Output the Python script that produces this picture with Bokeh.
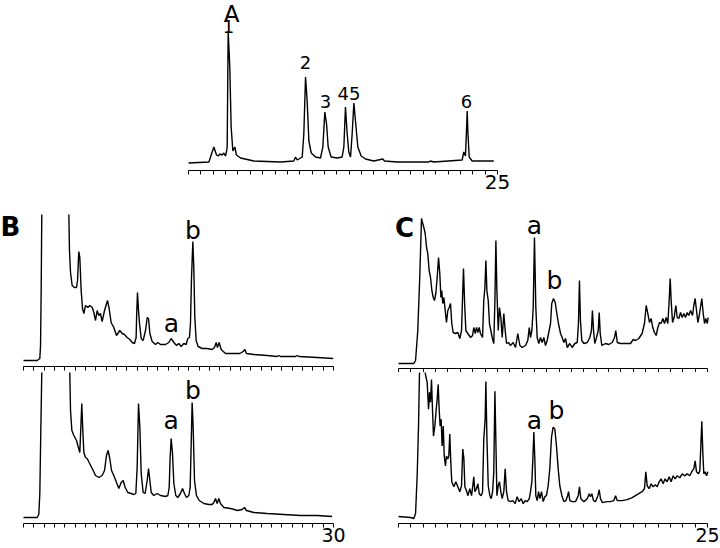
from bokeh.plotting import figure
from bokeh.layouts import column, row
from bokeh.models import FixedTicker, Range1d
from bokeh.core.properties import value
from bokeh.embed import file_html
from bokeh.resources import INLINE

# ---------------- data (time in min, detector response in arbitrary units) ----------------
a_time = [0.0, 1.65, 2.05, 2.27, 2.40, 2.53, 2.72, 2.86, 2.99, 3.07, 3.13, 3.21, 3.34, 3.45, 3.59, 3.67,
          3.75, 3.88, 4.21, 5.29, 7.44, 8.52, 8.66, 8.79, 9.20, 9.33, 9.47, 9.60, 9.74, 9.93, 10.28, 10.68,
          10.87, 11.03, 11.17, 11.30, 11.54, 12.03, 12.43, 12.57, 12.70, 12.84, 12.97, 13.11, 13.24, 13.38,
          13.51, 13.70, 13.97, 14.32, 14.99, 15.72, 15.86, 16.88, 19.44, 19.58, 19.85, 22.14, 22.27, 22.41,
          22.49, 22.55, 22.60, 22.71, 22.95, 23.62, 24.70]
a_signal = [0, 1, 16, 8, 7, 9, 8, 10, 7, 11, 16, 132, 96, 36, 12, 14,
            16, 8, 5, 2, 1, 2, 6, 3, 6, 29, 86, 62, 22, 10, 6, 5,
            16, 51, 39, 16, 6, 5, 6, 16, 56, 29, 11, 6, 29, 60,
            42, 16, 7, 4, 2, 4, 2, 1, 1, 2, 1, 3, 11, 7,
            32, 52, 32, 6, 2, 2, 2]
a_peak_text = ["1", "2", "3", "45", "6"]
a_peak_time = [3.24, 9.47, 11.08, 12.99, 22.49]
a_peak_level = [137, 100.5, 61.5, 69.5, 61.5]

b1_time = [0.0, 1.32, 1.58, 1.65, 1.71, 1.77, 1.85, 4.30, 4.39, 4.45, 4.55, 4.71, 4.94, 5.13, 5.23, 5.35,
           5.45, 5.58, 5.71, 5.84, 6.00, 6.23, 6.42, 6.65, 6.81, 6.97, 7.13, 7.29, 7.45, 7.61, 7.84, 8.13,
           8.29, 8.48, 8.74, 9.00, 9.32, 9.55, 9.77, 10.03, 10.29, 10.52, 10.74, 10.90, 10.95, 11.03, 11.13,
           11.23, 11.39, 11.58, 11.81, 11.97, 12.10, 12.23, 12.45, 12.77, 13.00, 13.26, 13.74, 14.06, 14.29,
           14.55, 14.81, 15.03, 15.26, 15.52, 15.74, 15.90, 16.06, 16.16, 16.26, 16.39, 16.48, 16.58, 16.71,
           16.90, 17.29, 17.77, 18.26, 18.48, 18.65, 18.77, 18.94, 19.13, 19.55, 20.35, 20.94, 21.26, 21.42,
           21.58, 22.29, 23.58, 24.55, 24.71, 24.87, 26.32, 26.48, 26.65, 28.42, 29.97]
b1_signal = [0, 0, 2, 15, 70, 146, 200, 200, 145, 110, 88, 75, 73, 73, 80, 109,
             103, 70, 52, 47, 55, 53, 55, 53, 48, 40, 50, 45, 47, 39, 50, 60,
             52, 38, 33, 25, 30, 27, 26, 23, 21, 18, 17, 23, 45, 68, 50,
             37, 22, 20, 30, 43, 42, 27, 19, 16, 18, 16, 16, 18, 22,
             18, 15, 17, 14, 17, 16, 22, 23, 37, 83, 119, 93, 43, 20,
             14, 12, 12, 11, 13, 18, 13, 18, 11, 7, 7, 7, 9, 11,
             7, 6, 5, 4, 5, 4, 4, 5, 4, 3, 2]
b1_peak_text = ["a", "b"]
b1_peak_time = [14.32, 16.39]
b1_peak_level = [37, 130]

b2_time = [0.0, 1.32, 1.48, 1.58, 1.68, 1.77, 1.85, 4.40, 4.48, 4.55, 4.68, 4.87, 5.13, 5.26, 5.45, 5.55,
           5.64, 5.74, 5.84, 6.00, 6.16, 6.35, 6.65, 6.97, 7.29, 7.61, 7.84, 8.03, 8.19, 8.35, 8.52, 8.74,
           9.00, 9.23, 9.45, 9.65, 9.84, 10.10, 10.42, 10.68, 10.87, 11.00, 11.13, 11.26, 11.39, 11.58, 11.77,
           11.97, 12.10, 12.23, 12.36, 12.61, 12.94, 13.26, 13.74, 13.97, 14.10, 14.19, 14.29, 14.42, 14.55,
           14.74, 14.93, 15.19, 15.39, 15.58, 15.77, 16.00, 16.13, 16.23, 16.32, 16.42, 16.55, 16.74, 17.00,
           17.45, 17.94, 18.26, 18.42, 18.58, 18.74, 18.90, 19.06, 19.39, 20.03, 20.74, 21.16, 21.39, 21.58,
           22.29, 23.58, 25.19, 26.81, 28.42, 29.87]
b2_signal = [0, 0, 3, 24, 90, 145, 200, 200, 145, 107, 87, 82, 77, 72, 65, 90,
             114, 87, 65, 60, 59, 55, 49, 42, 40, 42, 47, 62, 67, 59, 47, 42,
             35, 29, 35, 37, 30, 25, 24, 23, 24, 50, 114, 90, 44, 25, 24,
             37, 49, 37, 25, 22, 24, 22, 21, 22, 30, 60, 79, 64, 34,
             22, 20, 24, 29, 24, 20, 22, 30, 74, 115, 90, 37, 22, 17,
             14, 13, 13, 15, 19, 14, 19, 14, 10, 9, 7, 8, 10, 7,
             5, 4, 3, 2, 2, 1]
b2_peak_text = ["a", "b"]
b2_peak_time = [14.29, 16.39]
b2_peak_level = [97, 127]

c1_time = [0.0, 1.24, 1.38, 1.56, 1.73, 1.86, 1.94, 2.05, 2.16, 2.27, 2.37, 2.48, 2.59, 2.70, 2.81, 2.91,
           3.02, 3.13, 3.24, 3.34, 3.43, 3.50, 3.58, 3.67, 3.78, 3.88, 3.99, 4.10, 4.21, 4.31, 4.42, 4.61,
           4.80, 4.96, 5.10, 5.20, 5.26, 5.34, 5.45, 5.61, 5.83, 5.99, 6.09, 6.21, 6.31, 6.42, 6.53, 6.63,
           6.80, 6.90, 6.99, 7.07, 7.15, 7.26, 7.36, 7.47, 7.58, 7.71, 7.80, 7.88, 7.96, 8.07, 8.17, 8.28,
           8.39, 8.52, 8.63, 8.74, 8.90, 9.06, 9.28, 9.47, 9.65, 9.82, 10.01, 10.28, 10.46, 10.58, 10.68,
           10.79, 10.90, 11.00, 11.11, 11.22, 11.35, 11.49, 11.62, 11.76, 11.89, 12.03, 12.19, 12.30, 12.40,
           12.54, 12.68, 12.81, 12.94, 13.11, 13.24, 13.38, 13.51, 13.65, 13.86, 14.05, 14.27, 14.46, 14.56,
           14.64, 14.72, 14.83, 15.00, 15.27, 15.48, 15.61, 15.69, 15.78, 15.88, 16.02, 16.16, 16.24, 16.32,
           16.45, 16.75, 17.02, 17.29, 17.48, 17.58, 17.70, 17.96, 18.37, 18.77, 18.99, 19.17, 19.44, 19.71,
           19.90, 20.04, 20.17, 20.31, 20.44, 20.57, 20.71, 20.85, 20.98, 21.12, 21.25, 21.39, 21.52, 21.66,
           21.79, 21.90, 21.98, 22.06, 22.17, 22.30, 22.44, 22.55, 22.68, 22.82, 22.95, 23.09, 23.22, 23.36,
           23.49, 23.63, 23.79, 23.89, 24.00, 24.11, 24.22, 24.33, 24.43, 24.54, 24.65, 24.76, 24.86, 24.98,
           25.06]
c1_signal = [0, 0, 3, 33, 90, 145, 141, 136, 130, 116, 110, 93, 86, 73, 66, 63,
             70, 86, 106, 90, 66, 73, 60, 66, 53, 41, 53, 56, 60, 40, 31, 30,
             31, 25, 33, 73, 95, 63, 33, 30, 26, 28, 36, 30, 36, 31, 36, 30,
             26, 63, 76, 103, 73, 63, 40, 33, 26, 20, 63, 123, 73, 33, 56, 46,
             26, 50, 33, 20, 21, 18, 21, 16, 30, 18, 16, 18, 23, 36, 26,
             33, 56, 126, 56, 26, 20, 26, 21, 26, 18, 23, 33, 40, 60,
             65, 61, 50, 40, 30, 26, 21, 25, 16, 20, 16, 20, 21, 40,
             83, 43, 23, 20, 21, 26, 33, 53, 33, 20, 26, 33, 51, 30,
             18, 20, 19, 21, 26, 33, 21, 20, 20, 20, 24, 23, 25, 30,
             40, 58, 50, 41, 45, 36, 31, 28, 36, 41, 40, 45, 40, 46,
             40, 63, 85, 63, 41, 46, 58, 46, 45, 51, 46, 50, 46, 51,
             48, 53, 48, 58, 65, 53, 41, 48, 56, 65, 50, 40, 45, 40,
             46]
c1_peak_text = ["a", "b"]
c1_peak_time = [11.0, 12.62]
c1_peak_level = [138, 83]

c2_time = [0.0, 0.97, 1.24, 1.38, 1.51, 1.62, 1.72, 2.05, 2.18, 2.32, 2.43, 2.51, 2.59, 2.67, 2.75, 2.83,
           2.94, 3.05, 3.13, 3.21, 3.29, 3.37, 3.45, 3.53, 3.62, 3.70, 3.80, 3.88, 3.99, 4.07, 4.15, 4.23,
           4.31, 4.48, 4.64, 4.80, 4.96, 5.10, 5.20, 5.29, 5.37, 5.50, 5.61, 5.77, 5.91, 6.01, 6.09, 6.18,
           6.31, 6.42, 6.53, 6.69, 6.80, 6.90, 7.01, 7.07, 7.15, 7.26, 7.39, 7.50, 7.61, 7.71, 7.80, 7.88,
           7.96, 8.07, 8.17, 8.28, 8.39, 8.52, 8.63, 8.74, 8.87, 9.06, 9.25, 9.44, 9.60, 9.76, 9.93, 10.09,
           10.25, 10.41, 10.58, 10.68, 10.79, 10.87, 10.95, 11.03, 11.11, 11.22, 11.33, 11.44, 11.57, 11.71,
           11.84, 11.97, 12.11, 12.24, 12.38, 12.51, 12.65, 12.78, 12.92, 13.05, 13.22, 13.38, 13.54, 13.68,
           13.76, 13.86, 14.05, 14.32, 14.54, 14.64, 14.75, 15.00, 15.27, 15.43, 15.53, 15.64, 15.78, 15.94,
           16.13, 16.24, 16.34, 16.50, 16.88, 17.15, 17.42, 17.56, 17.70, 18.10, 18.50, 18.91, 19.17, 19.44,
           19.71, 19.90, 20.01, 20.12, 20.28, 20.44, 20.60, 20.77, 20.93, 21.09, 21.25, 21.41, 21.57, 21.74,
           21.90, 22.06, 22.22, 22.38, 22.55, 22.76, 22.95, 23.14, 23.36, 23.57, 23.76, 23.89, 24.00, 24.11,
           24.27, 24.38, 24.46, 24.54, 24.62, 24.70, 24.81, 24.92, 25.03]
c2_signal = [0, -1, -2, 3, 41, 91, 160, 160, 143, 135, 108, 125, 115, 138, 108, 81,
             91, 108, 118, 133, 108, 91, 98, 71, 91, 61, 51, 61, 58, 61, 83, 55,
             35, 30, 35, 30, 25, 31, 68, 58, 30, 26, 21, 28, 21, 31, 40, 25,
             28, 33, 23, 21, 25, 78, 98, 136, 81, 31, 21, 18, 25, 45, 126, 75,
             21, 31, 35, 25, 18, 25, 48, 25, 16, 15, 16, 13, 20, 15, 18, 13,
             16, 15, 18, 25, 35, 58, 85, 58, 21, 16, 25, 18, 25, 15,
             20, 21, 31, 48, 80, 90, 88, 71, 48, 31, 21, 15, 16, 21,
             25, 16, 15, 15, 21, 30, 18, 15, 18, 23, 20, 23, 16, 15,
             21, 27, 18, 14, 15, 15, 16, 21, 16, 16, 17, 19, 21, 23,
             25, 28, 45, 31, 28, 33, 30, 32, 30, 35, 38, 33, 38, 35,
             40, 35, 41, 38, 41, 39, 43, 41, 43, 41, 46, 48, 56, 45,
             43, 46, 71, 96, 65, 43, 45, 41, 45]
c2_peak_text = ["a", "b"]
c2_peak_time = [11.0, 12.78]
c2_peak_level = [97, 107]

panel_letters = ["A", "B", "C"]

# ---------------- layout helpers ----------------
FONT = value("DejaVu Sans")


def make_panel(width, height, border_top, border_bottom, zero_px, px_per_min,
               ref_top, ref_axis, ref_base, axis_end, show_end_label, label_size="19px"):
    x0 = -zero_px / px_per_min
    x1 = (width - zero_px) / px_per_min
    y0 = -(ref_axis - ref_base)
    y1 = ref_base - ref_top
    p = figure(width=width, height=height, x_range=Range1d(x0, x1), y_range=Range1d(y0, y1),
               output_backend="svg", toolbar_location=None, y_axis_location=None,
               min_border_left=0, min_border_right=0,
               min_border_top=border_top, min_border_bottom=border_bottom)
    p.outline_line_color = None
    p.xgrid.visible = False
    p.ygrid.visible = False
    p.background_fill_color = "white"
    p.border_fill_color = "white"
    ax = p.xaxis[0]
    ticks = list(range(0, axis_end + 1))
    ax.ticker = FixedTicker(ticks=ticks)
    ax.bounds = (0, axis_end)
    ax.axis_line_color = "black"
    ax.axis_line_width = 1.2
    ax.major_tick_line_color = "black"
    ax.major_tick_line_width = 1
    ax.major_tick_in = 0
    ax.major_tick_out = 4
    ax.minor_tick_line_color = None
    ax.major_label_standoff = 0
    ax.major_label_text_font = "DejaVu Sans"
    ax.major_label_text_color = "black"
    if show_end_label:
        overrides = {t: "" for t in ticks if t != axis_end}
        overrides[axis_end] = str(axis_end)
        ax.major_label_overrides = overrides
        ax.major_label_text_font_size = label_size
    else:
        ax.major_label_overrides = {t: "" for t in ticks}
        ax.major_label_text_font_size = "0px"
    return p


def trace(p, t, s):
    p.line(t, s, line_color="black", line_width=1.4)


def labels(p, t, y, txt, size="25px", bold=False):
    p.text(x=t, y=y, text=txt, text_font=FONT, text_font_size=size,
           text_align="center", text_baseline="middle", text_color="black",
           text_font_style="bold" if bold else "normal")


# Panel A  (canvas 720 x 198, frame rows 0..170)
pA = make_panel(720, 198, 0, 28, 188, 12.36, 0, 170, 162.5, 25, True, "20px")
trace(pA, a_time, a_signal)
labels(pA, a_peak_time, a_peak_level, a_peak_text, size="18px")
labels(pA, [3.48], [149], [panel_letters[0]], size="23px")

# Panel B (top, bottom)
pB1 = make_panel(360, 174, 16, 6, 23, 10.333, 214, 366, 360, 30, False)
trace(pB1, b1_time, b1_signal)
labels(pB1, b1_peak_time, b1_peak_level, b1_peak_text)
labels(pB1, [-1.26], [134], [panel_letters[1]], size="26px", bold=True)

pB2 = make_panel(360, 176, 0, 25, 23, 10.333, 372, 523, 517, 30, True)
trace(pB2, b2_time, b2_signal)
labels(pB2, b2_peak_time, b2_peak_level, b2_peak_text)

# Panel C (top, bottom)
pC1 = make_panel(360, 174, 16, 4, 38, 12.36, 214, 368, 363, 25, False)
trace(pC1, c1_time, c1_signal)
labels(pC1, c1_peak_time, c1_peak_level, c1_peak_text)
labels(pC1, [0.49], [136], [panel_letters[2]], size="26px", bold=True)

pC2 = make_panel(360, 176, 0, 25, 38, 12.36, 372, 524, 517, 25, True)
trace(pC2, c2_time, c2_signal)
labels(pC2, c2_peak_time, c2_peak_level, c2_peak_text)

layout = column(pA, row(column(pB1, pB2), column(pC1, pC2)))

open("out.html", "w").write(file_html(layout, INLINE))
